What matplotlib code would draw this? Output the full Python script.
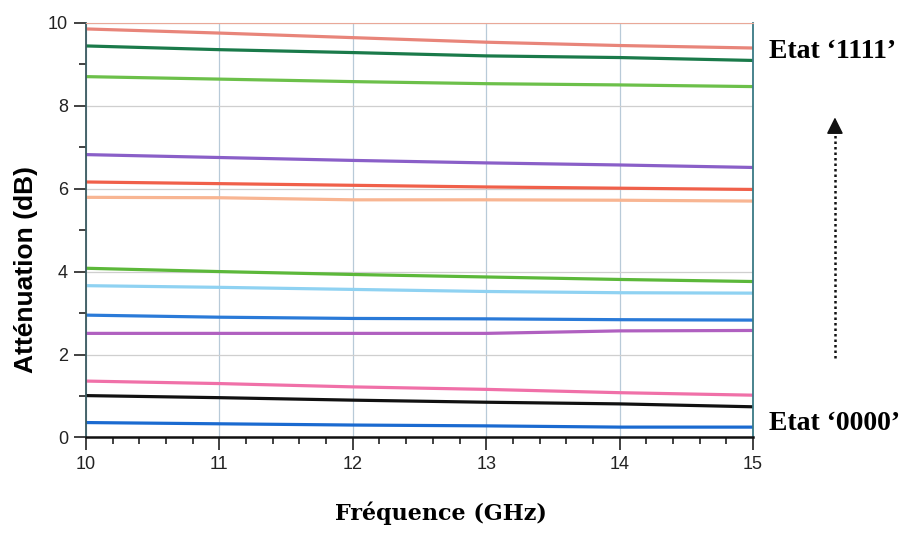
import matplotlib
matplotlib.use("Agg")
import matplotlib.pyplot as plt
from matplotlib.ticker import MultipleLocator
from matplotlib.patches import FancyArrowPatch
from matplotlib.lines import Line2D

freq = [10, 11, 12, 13, 14, 15]

s01 = [9.85, 9.75, 9.64, 9.53, 9.45, 9.39]
s02 = [9.44, 9.35, 9.28, 9.20, 9.16, 9.09]
s03 = [8.70, 8.64, 8.58, 8.53, 8.50, 8.46]
s04 = [6.82, 6.75, 6.68, 6.62, 6.57, 6.51]
s05 = [6.16, 6.12, 6.08, 6.04, 6.01, 5.98]
s06 = [5.79, 5.78, 5.73, 5.73, 5.72, 5.70]
s07 = [4.08, 4.00, 3.93, 3.87, 3.81, 3.76]
s08 = [3.66, 3.62, 3.57, 3.52, 3.49, 3.48]
s09 = [2.95, 2.90, 2.87, 2.86, 2.84, 2.83]
s10 = [2.51, 2.51, 2.51, 2.51, 2.57, 2.58]
s11 = [1.36, 1.30, 1.22, 1.16, 1.08, 1.02]
s12 = [1.01, 0.96, 0.90, 0.85, 0.81, 0.74]
s13 = [0.36, 0.33, 0.30, 0.28, 0.25, 0.25]

series = [s01, s02, s03, s04, s05, s06, s07, s08, s09, s10, s11, s12, s13]
colors = ["#e8857a", "#1a7a4a", "#6cc04a", "#8a5fc8", "#f0604a", "#f8b592",
          "#5cb83a", "#8fd2f2", "#2a7ad8", "#b060c0", "#f070a8", "#111111", "#1a6ad0"]

xticks = [10, 11, 12, 13, 14, 15]
yticks = [0, 2, 4, 6, 8, 10]

fig = plt.figure(figsize=(9.12, 5.33), dpi=100)
ax = fig.add_axes([0.0943, 0.1792, 0.7314, 0.7782])

for vals, c in zip(series, colors):
    ax.plot(freq, vals, color=c, lw=2.3, solid_capstyle="butt")

ax.set_xlim(10, 15)
ax.set_ylim(0, 10)
ax.set_xticks(xticks)
ax.set_yticks(yticks)
ax.xaxis.set_minor_locator(MultipleLocator(0.2))
ax.yaxis.set_minor_locator(MultipleLocator(1))

tickfont = ["Liberation Sans Narrow", "Liberation Sans", "DejaVu Sans"]
for lab in ax.get_xticklabels() + ax.get_yticklabels():
    lab.set_family(tickfont)
    lab.set_fontsize(13)
    lab.set_color("#222222")

ax.tick_params(axis="both", which="major", length=9, width=1.3, color="#333333", pad=4)
ax.tick_params(axis="both", which="minor", length=5, width=1.3, color="#333333")

ax.grid(True, which="major", axis="x", color="#b8cad8", lw=0.9)
ax.grid(True, which="major", axis="y", color="#cfcfcf", lw=0.9)
ax.set_axisbelow(True)

ax.spines["left"].set_color("#3a5a60")
ax.spines["right"].set_color("#3a7a85")
ax.spines["top"].set_color("#e9a898")
ax.spines["bottom"].set_color("#111111")
ax.spines["bottom"].set_linewidth(1.8)
ax.spines["left"].set_linewidth(1.3)
ax.spines["right"].set_linewidth(1.3)

serif = ["Liberation Serif", "DejaVu Serif"]
ax.set_xlabel("Fréquence (GHz)", fontsize=16, fontweight="bold",
              family=["DejaVu Serif"])
ax.xaxis.set_label_coords(0.532, -0.155)
ax.set_ylabel("Atténuation (dB)", fontsize=19, fontweight="bold",
              family=["Liberation Sans", "DejaVu Sans"])
ax.yaxis.set_label_coords(-0.072, 0.404)

fig.text(0.843, 0.903, "Etat \u2018" + "1111\u2019", fontsize=20, fontweight="bold", family=serif,
         va="center", ha="left")
fig.text(0.843, 0.205, "Etat \u2018" + "0000\u2019", fontsize=20, fontweight="bold", family=serif,
         va="center", ha="left")

fig.add_artist(Line2D([0.9155, 0.9155], [0.328, 0.765], transform=fig.transFigure,
                      color="#111111", lw=1.8, linestyle=(0, (1, 1.2))))
fig.patches.append(FancyArrowPatch(
    (0.9155, 0.760), (0.9155, 0.785), transform=fig.transFigure,
    arrowstyle="-|>,head_length=10,head_width=5",
    color="#111111", lw=1.2, mutation_scale=1))

fig.savefig("out.png", dpi=100)
